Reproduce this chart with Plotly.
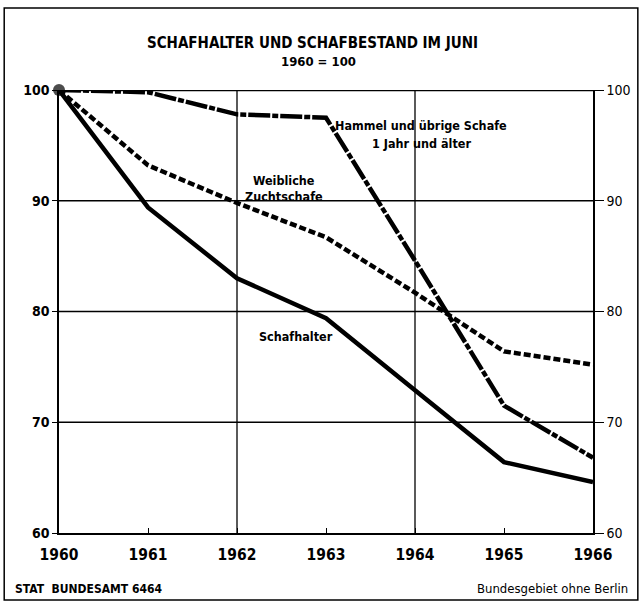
import plotly.graph_objects as go

years = [1960, 1961, 1962, 1963, 1964, 1965, 1966]
schafhalter = [100, 89.4, 83.0, 79.4, 72.9, 66.4, 64.6]
hammel = [100, 99.8, 97.8, 97.5, 84.6, 71.5, 66.8]
weibliche = [100, 93.2, 89.8, 86.7, 81.7, 76.4, 75.2]
grid_years = [1962, 1964]
y_ticks = [60, 70, 80, 90, 100]

FONT = "DejaVu Sans Condensed, sans-serif"

fig = go.Figure()
fig.add_trace(go.Scatter(x=years, y=weibliche, mode="lines",
                         line=dict(color="black", width=4.5, dash="7px,3px"),
                         showlegend=False, hoverinfo="skip"))
fig.add_trace(go.Scatter(x=years, y=hammel, mode="lines",
                         line=dict(color="black", width=4.5, dash="22px,2px,6px,2px"),
                         showlegend=False, hoverinfo="skip"))
fig.add_trace(go.Scatter(x=years, y=schafhalter, mode="lines+markers",
                         line=dict(color="black", width=4.5),
                         marker=dict(color="black", size=[12, 0, 0, 0, 0, 0, 0],
                                     line=dict(width=0)),
                         cliponaxis=False, showlegend=False, hoverinfo="skip"))
# invisible trace to carry the right-hand axis
fig.add_trace(go.Scatter(x=years, y=schafhalter, yaxis="y2", mode="lines",
                         line=dict(color="rgba(0,0,0,0)", width=0),
                         showlegend=False, hoverinfo="skip"))

shapes = []
for gy in grid_years:
    shapes.append(dict(type="line", xref="x", yref="paper", x0=gy, x1=gy, y0=0, y1=1,
                       line=dict(color="black", width=1.3), layer="below"))
for yt in y_ticks[1:-1]:
    shapes.append(dict(type="line", xref="paper", yref="y", x0=0, x1=1, y0=yt, y1=yt,
                       line=dict(color="black", width=1.3), layer="below"))
# top line at 100 (thicker)
shapes.append(dict(type="line", xref="paper", yref="y", x0=0, x1=1, y0=100, y1=100,
                   line=dict(color="black", width=2.5), layer="below"))
# outer frame
shapes.append(dict(type="rect", xref="paper", yref="paper",
                   x0=(4 - 59) / 536, x1=(640 - 59) / 536,
                   y0=(533 - 600) / 443, y1=(533 - 8) / 443,
                   line=dict(color="black", width=1.5)))


def ann(text, px, py, size, bold=True, anchor="center"):
    return dict(text=text, x=(px - 59) / 536, y=(533 - py) / 443,
                xref="paper", yref="paper", showarrow=False,
                xanchor=anchor, yanchor="middle",
                font=dict(family=FONT, size=size, color="black",
                          weight="bold" if bold else "normal"))


annotations = [
    ann("SCHAFHALTER UND SCHAFBESTAND IM JUNI", 313, 43, 15),
    ann("1960 = 100", 319, 61, 13),
    ann("Hammel und übrige Schafe", 422, 125, 12.5),
    ann("1 Jahr und älter", 423, 143, 12.5),
    ann("Weibliche", 285, 180, 12.5),
    ann("Zuchtschafe", 285, 196, 12.5),
    ann("Schafhalter", 297, 336, 12.5),
    ann("STAT  BUNDESAMT 6464", 13, 589, 12, anchor="left"),
    ann("Bundesgebiet ohne Berlin", 632, 588, 13, bold=False, anchor="right"),
]

fig.update_layout(
    width=643, height=603,
    margin=dict(l=59, r=48, t=90, b=70),
    paper_bgcolor="white", plot_bgcolor="white",
    shapes=shapes, annotations=annotations,
    xaxis=dict(range=[1960, 1966], tickvals=years, ticktext=[str(y) for y in years],
               showgrid=False, zeroline=False, showline=True, linecolor="black", linewidth=1.5,
               ticks="inside", ticklen=5, tickcolor="black", tickwidth=1.3,
               ticklabelstandoff=7,
               tickfont=dict(family=FONT, size=15.5, color="black", weight="bold")),
    yaxis=dict(range=[60, 100], tickvals=y_ticks, showgrid=False, zeroline=False,
               showline=True, linecolor="black", linewidth=1.5,
               ticks="outside", ticklen=5, tickcolor="black", tickwidth=1.3,
               tickfont=dict(family=FONT, size=14, color="black", weight="bold")),
    yaxis2=dict(range=[60, 100], tickvals=y_ticks, overlaying="y", side="right",
                showgrid=False, zeroline=False, showline=True, linecolor="black", linewidth=1.5,
                ticks="outside", ticklen=9, tickcolor="black", tickwidth=1.3,
                tickfont=dict(family=FONT, size=14, color="black")),
)

fig.write_html("out.html", config={"displayModeBar": False},
               post_script="document.body.style.margin='0px';document.body.style.overflow='hidden';")
